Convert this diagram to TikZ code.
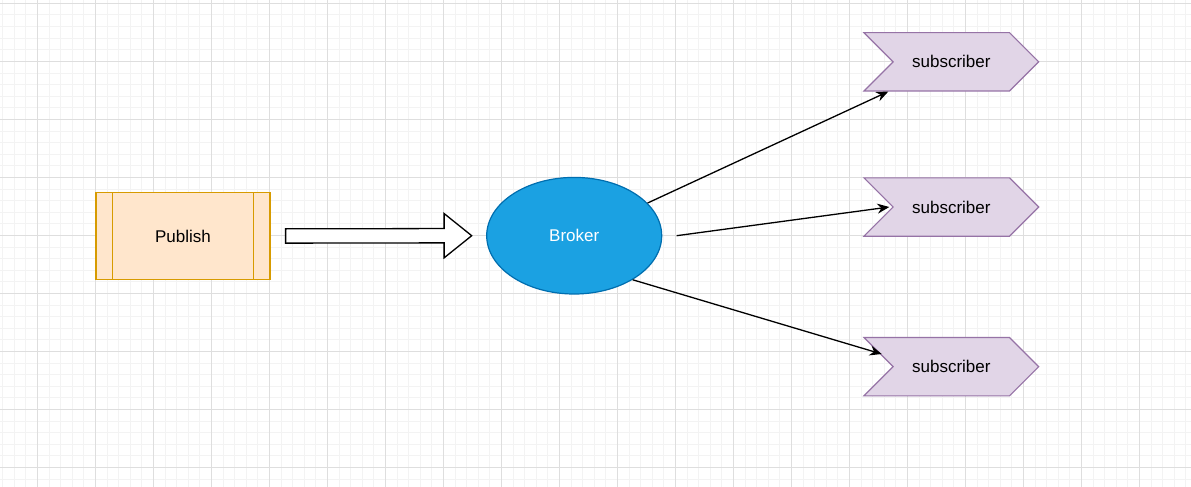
\documentclass[tikz,border=0pt]{standalone}
\usepackage{fontspec}
\setmainfont{Liberation Sans}
\usetikzlibrary{shapes.geometric,shapes.symbols,arrows.meta,calc}

\definecolor{gridmajor}{RGB}{222,222,222}
\definecolor{gridminor}{RGB}{243,243,243}
\definecolor{pubfill}{HTML}{FFE6CC}
\definecolor{publine}{HTML}{D79B00}
\definecolor{brokerfill}{HTML}{1BA1E2}
\definecolor{brokerline}{HTML}{006EAF}
\definecolor{subfill}{HTML}{E1D5E7}
\definecolor{subline}{HTML}{9673A6}

\tikzset{
  label font/.style={font=\fontsize{17}{20}\selectfont},
  process/.style={draw=publine, fill=pubfill, line width=1.2pt, minimum width=174pt, minimum height=86.5pt, inner sep=0pt, label font},
  brokernode/.style={ellipse, draw=brokerline, fill=brokerfill, line width=1.2pt, minimum width=175pt, minimum height=116.6pt, inner sep=0pt, text=white, label font},
  subnode/.style={signal, signal from=west, signal to=east, signal pointer angle=90, draw=subline, fill=subfill, line width=1.2pt, minimum width=174.7pt, minimum height=58.3pt, inner sep=0pt, label font},
  flow/.style={draw=black, fill=white, line width=1.3pt, line join=miter},
  link/.style={line width=1.3pt, -{Stealth[length=12pt, width=10pt, inset=4pt]}}
}

\begin{document}
\begin{tikzpicture}[x=1pt, y=-1pt]
    \useasboundingbox (0,0) rectangle (1191,487);
    \fill[white] (0,0) rectangle (1191,487);

    % Grid
    \foreach \i in {-3,...,99} \draw[gridminor, line width=0.8pt] ({37.3+11.6*\i},0) -- ++(0,487);
    \foreach \j in {0,...,41} \draw[gridminor, line width=0.8pt] (0,{3.3+11.6*\j}) -- ++(1191,0);
    \foreach \i in {0,...,19} \draw[gridmajor, line width=0.8pt] ({37.3+58*\i},0) -- ++(0,487);
    \foreach \j in {0,...,8} \draw[gridmajor, line width=0.8pt] (0,{3.3+58*\j}) -- ++(1191,0);

    % Publisher
    \node[process] (pub) at (183,236) {Publish};
    \draw[publine, line width=1.2pt] ([xshift=17.3pt]pub.north west) -- ([xshift=17.3pt]pub.south west);
    \draw[publine, line width=1.2pt] ([xshift=-17.3pt]pub.north east) -- ([xshift=-17.3pt]pub.south east);

    % Broker
    \node[brokernode] (broker) at (574.2,235.7) {Broker};

    % Flow arrow
    \coordinate (ftail) at ($(pub.east)+(15,0)$);
    \coordinate (ftip) at ($(broker.west)+(-14.4,0)$);
    \draw[flow] ($(ftail)+(0,-7.15)$) -- ($(ftip)+(-27.6,-7.15)$) -- ($(ftip)+(-27.6,-22.15)$)
        -- (ftip) -- ($(ftip)+(-27.6,22.15)$) -- ($(ftip)+(-27.6,7.15)$) -- ($(ftail)+(0,7.15)$) -- cycle;

    % Subscribers
    \node[subnode] (sub1) at (951.3,61.8) {subscriber};
    \node[subnode] (sub2) at (951.3,207) {subscriber};
    \node[subnode] (sub3) at (951.3,366.7) {subscriber};

    % Links
    \draw[link] (broker.24.5) -- ([xshift=-63pt]sub1.south);
    \draw[link] ([xshift=14.3pt]broker.east) -- ([xshift=-62pt]sub2.center);
    \draw[link] (broker.-37) -- ([shift={(-69.6pt,12.7pt)}]sub3.center);
\end{tikzpicture}
\end{document}
